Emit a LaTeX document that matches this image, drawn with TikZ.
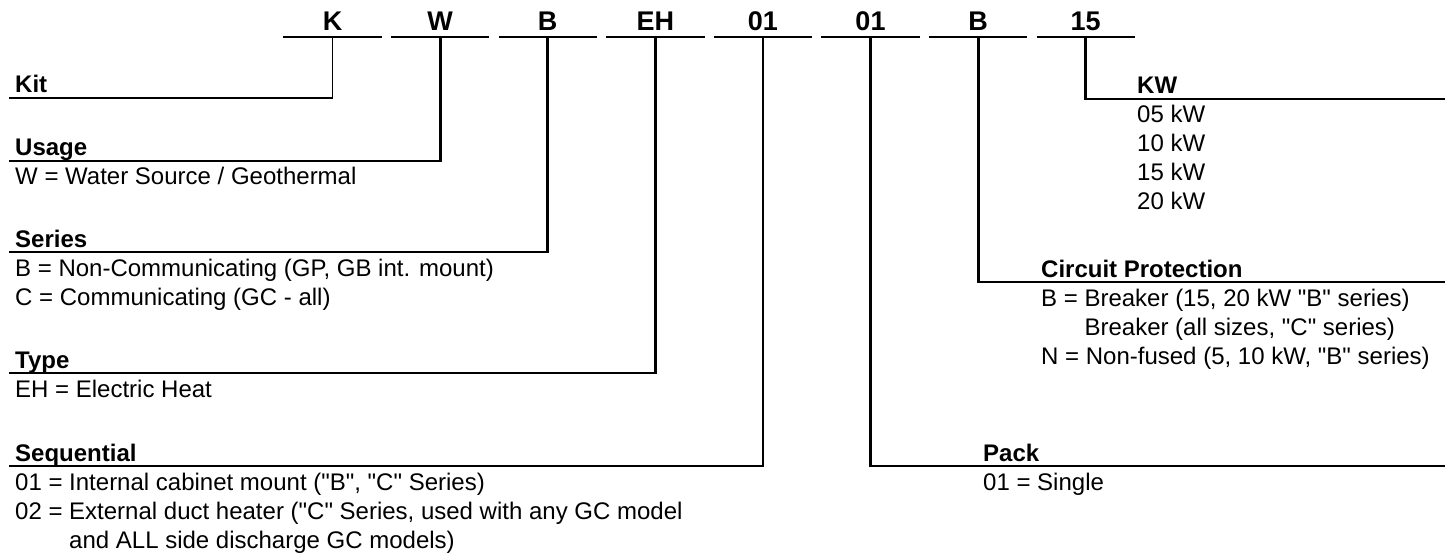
\documentclass[tikz,border=0pt]{standalone}
\usepackage{fontspec}
\setmainfont{Liberation Sans}
\usetikzlibrary{positioning}
\newcommand{\dq}{\textquotedbl}

\begin{document}
\begin{tikzpicture}[x=1pt, y=-1pt,
        code/.style={font=\fontsize{27}{27}\selectfont\bfseries, inner sep=0pt, minimum width=98pt, text height=19pt, text depth=6pt},
        head/.style={font=\fontsize{24}{24}\selectfont\bfseries, inner sep=0pt, anchor=base west},
        desc/.style={font=\fontsize{24}{24}\selectfont, inner sep=0pt, anchor=base west},
        bar/.style={line width=2.8pt},
        thinbar/.style={line width=1.8pt},
        node distance=0pt and 9.2pt
        ]
        \useasboundingbox (0,0) rectangle (1445,556);

        % Code letters
        \node (cK) [code, anchor=south] at (332.5,37) {K};
        \node (cW) [code, right=of cK] {W};
        \node (cB) [code, right=of cW] {B};
        \node (cEH) [code, right=of cB] {EH};
        \node (cSeq) [code, right=of cEH] {01};
        \node (cPack) [code, right=of cSeq] {01};
        \node (cCP) [code, right=of cPack] {B};
        \node (cKW) [code, right=of cCP] {15};

        % Line ends
        \coordinate (kitL) at (9,98);
        \coordinate (usageL) at (9,161);
        \coordinate (seriesL) at (9,252);
        \coordinate (typeL) at (9,373);
        \coordinate (seqL) at (9,466);
        \coordinate (packR) at (1445,466);
        \coordinate (cpR) at (1445,282);
        \coordinate (kwR) at (1445,99);

        % Left side
        \node (kit) [head] at (15,93) {Kit};
        \node (usage) [head] at (15,156) {Usage};
        \node (usage1) [desc] at (15,185) {W = Water Source / Geothermal};
        \node (series) [head] at (15,247) {Series};
        \node (series1) [desc] at (15,276) {B = Non-Communicating (GP, GB int. mount)};
        \node (series2) [desc] at (15,305) {C = Communicating (GC - all)};
        \node (type) [head] at (15,368) {Type};
        \node (type1) [desc] at (15,397) {EH = Electric Heat};
        \node (seq) [head] at (15,461) {Sequential};
        \node (seq1) [desc] at (15,490) {01 = Internal cabinet mount (\dq B\dq, \dq C\dq\ Series)};
        \node (seq2) [desc] at (15,519) {02 = External duct heater (\dq C\dq\ Series, used with any GC model};
        \node (seq3) [desc] at (15,548) {\phantom{02 = }and ALL side discharge GC models)};

        % Right side
        \node (kw) [head] at (1137,94) {KW};
        \node (kw1) [desc] at (1137,123) {05 kW};
        \node (kw2) [desc] at (1137,152) {10 kW};
        \node (kw3) [desc] at (1137,181) {15 kW};
        \node (kw4) [desc] at (1137,210) {20 kW};
        \node (cp) [head] at (1041,277) {Circuit Protection};
        \node (cp1) [desc] at (1041,306) {B = Breaker (15, 20 kW \dq B\dq\ series)};
        \node (cp2) [desc] at (1041,335) {\phantom{B = }Breaker (all sizes, \dq C\dq\ series)};
        \node (cp3) [desc] at (1041,364) {N = Non-fused (5, 10 kW, \dq B\dq\ series)};
        \node (pack) [head] at (983,461) {Pack};
        \node (pack1) [desc] at (983,490) {01 = Single};

        % Bars under the code
        \draw [thinbar] (cK.south west) -- (cK.south east);
        \foreach \c in {cW,cB,cEH,cSeq,cPack,cCP,cKW}
            \draw [bar] (\c.south west) -- (\c.south east);

        % Leads
        \draw [thinbar] (cK.south) |- (kitL);
        \draw [bar] (cW.south) |- (usageL);
        \draw [bar] (cB.south) |- (seriesL);
        \draw [bar] (cEH.south) |- (typeL);
        \draw [bar] (cSeq.south) |- (seqL);
        \draw [bar] (cPack.south) |- (packR);
        \draw [bar] (cCP.south) |- (cpR);
        \draw [bar] (cKW.south) |- (kwR);

    \end{tikzpicture}
\end{document}
